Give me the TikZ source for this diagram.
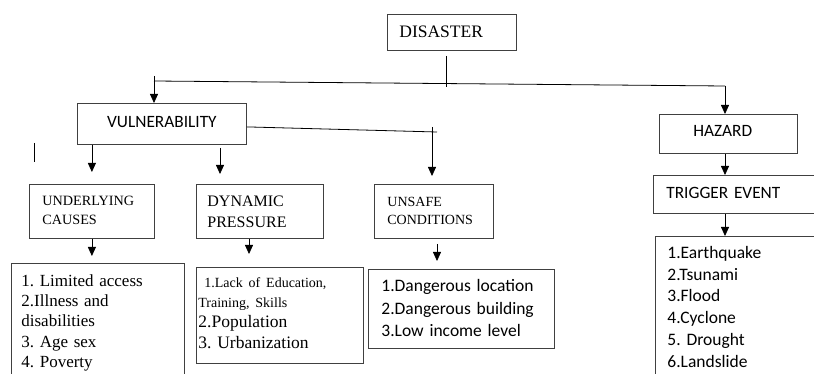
\documentclass[tikz,border=0pt]{standalone}
\usepackage{fontspec}
\setmainfont{Liberation Serif}
\newfontfamily\calibri{Carlito}
\usepackage{tikz}
\usetikzlibrary{arrows.meta}

\tikzset{
    box/.style={draw=black!75, anchor=north west, inner ysep=0pt, align=left},
    arr/.style={-{Triangle[width=8pt,length=9pt]}},
    serif/.style={font=\fontsize{#1}{20}\selectfont},
    sans/.style={font=\calibri\fontsize{#1}{22}\selectfont}
}

\begin{document}
\begin{tikzpicture}[x=1pt, y=-1pt, line width=0.8pt]
        \useasboundingbox (0,0) rectangle (814,374);
        \clip (0,0) rectangle (814,374);

        % The top box
        \node[box, serif=17.5, inner xsep=12pt, text width=105pt, text height=23pt, text depth=13pt] (dis) at (387,14) {DISASTER};

        % The two branches
        \node[box, sans=17.3, align=center, inner xsep=0pt, text width=169pt, text height=24pt, text depth=17pt] (vul) at (77,103) {VULNERABILITY};
        \node[box, sans=17.3, inner xsep=34pt, text width=70pt, text height=22pt, text depth=17pt] (haz) at (659,114) {HAZARD};

        % The second row
        \node[box, font=\fontsize{14.2}{19}\selectfont, inner xsep=13pt, text width=99pt, text height=21pt, text depth=33pt] (und) at (29,184) {UNDERLYING\\CAUSES};
        \node[box, font=\fontsize{16}{21}\selectfont, inner xsep=11pt, text width=105pt, text height=22pt, text depth=32pt] (dyn) at (196,184) {DYNAMIC\\PRESSURE};
        \node[box, font=\fontsize{14}{18}\selectfont, inner xsep=13pt, text width=93pt, text height=22pt, text depth=32pt] (uns) at (374,184) {UNSAFE\\CONDITIONS};
        \node[box, sans=17.3, inner xsep=13pt, text width=150pt, text height=23pt, text depth=15pt] (trg) at (653,175) {TRIGGER~EVENT};

        % The lists
        \node[box, font=\fontsize{17}{20.25}\selectfont, inner xsep=10pt, text width=153pt, text height=23pt, text depth=127pt] (lst1) at (11,263)
            {1.~Limited~access\\2.Illness~and\\disabilities\\3.~Age~sex\\4.~Poverty};
        \node[box, font=\fontsize{17.5}{20.3}\selectfont, inner xsep=2pt, text width=163pt, text height=20pt, text depth=76pt] (lst2) at (196,267)
            {\fontsize{14}{20.3}\selectfont\hspace*{6pt}1.Lack~of~Education,\\Training,~Skills\\ \fontsize{17.5}{20.3}\selectfont 2.Population\\3.~Urbanization};
        \node[box, font=\calibri\fontsize{17.5}{22.5}\selectfont, inner xsep=13pt, text width=160pt, text height=22.5pt, text depth=56.5pt] (lst3) at (368,269)
            {1.Dangerous~location\\2.Dangerous~building\\3.Low~income~level};
        \node[box, font=\calibri\fontsize{17.5}{21.8}\selectfont, inner xsep=12pt, text width=151pt, text height=22pt, text depth=150pt] (lst4) at (655,236)
            {1.Earthquake\\2.Tsunami\\3.Flood\\4.Cyclone\\5.~Drought\\6.Landslide};

        % The connectors
        \coordinate (st) at (446,56);
        \coordinate (hl) at (154,81);
        \coordinate (hr) at (725,86);
        \coordinate (uc) at (432,127);
        \coordinate (ue) at (437,132);
        \coordinate (dc) at (220,148);
        \coordinate (dp) at (249,0);

        \draw (st) -- ++(0,31);
        \draw (hl) -- (hr);
        \draw[arr] ([yshift=5pt]hl) -- (hl |- vul.north);
        \draw[arr] (hr) -- (hr |- haz.north);

        \draw ([yshift=-3pt]vul.east) -- (ue);
        \draw[arr, shorten >=8pt] (uc) -- (uc |- uns.north);
        \draw[arr, shorten >=12pt] (vul.south -| und.north) -- (und.north);
        \draw[arr, shorten >=10pt] (dc) -- (dc |- dyn.north);
        \draw (34,143) -- (34,162);

        \draw[arr, shorten >=7pt] (und.south) -- (und.south |- lst1.north);
        \draw[arr, shorten >=13pt] (dyn.south -| dp) -- (lst2.north -| dp);
        \draw[arr, shorten <=5pt, shorten >=8pt] (uns.south -| ue) -- (lst3.north -| ue);
        \draw[arr] (haz.south -| hr) -- (trg.north -| hr);
        \draw[arr] (trg.south -| hr) -- (lst4.north -| hr);
    \end{tikzpicture}
\end{document}
